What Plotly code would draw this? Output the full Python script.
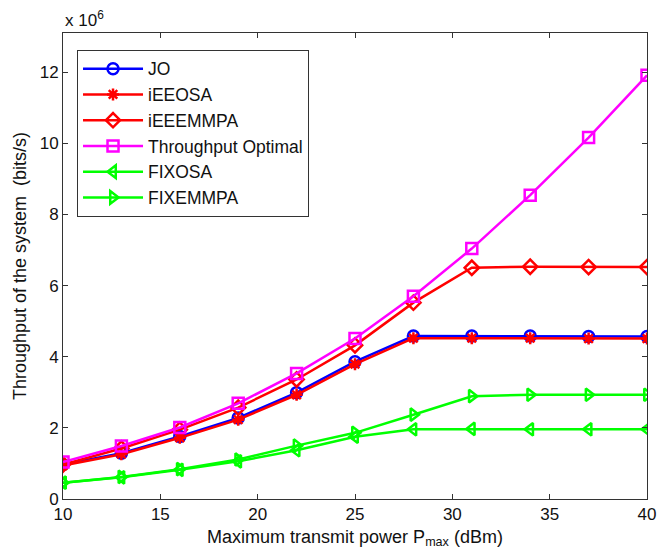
import plotly.graph_objects as go

x_power = [10, 13, 16, 19, 22, 25, 28, 31, 34, 37, 40]

jo = [0.97, 1.29, 1.76, 2.28, 2.99, 3.86, 4.58, 4.58, 4.58, 4.57, 4.57]
ieeosa = [0.94, 1.26, 1.72, 2.23, 2.93, 3.79, 4.52, 4.52, 4.52, 4.51, 4.51]
ieeemmpa = [0.97, 1.42, 1.95, 2.57, 3.36, 4.32, 5.52, 6.50, 6.53, 6.52, 6.52]
thr_opt = [1.04, 1.49, 2.01, 2.69, 3.53, 4.51, 5.70, 7.04, 8.54, 10.16, 11.91]
fixosa = [0.46, 0.61, 0.82, 1.06, 1.37, 1.75, 1.96, 1.97, 1.96, 1.96, 1.96]
fixemmpa = [0.46, 0.62, 0.84, 1.11, 1.50, 1.86, 2.37, 2.89, 2.93, 2.93, 2.93]

series = [
    ("JO", jo, "#0000ff", "circle-open"),
    ("iEEOSA", ieeosa, "#ff0000", "asterisk-open"),
    ("iEEEMMPA", ieeemmpa, "#ff0000", "diamond-open"),
    ("Throughput Optimal", thr_opt, "#ff00ff", "square-open"),
    ("FIXOSA", fixosa, "#00ff00", "triangle-left-open"),
    ("FIXEMMPA", fixemmpa, "#00ff00", "triangle-right-open"),
]

fig = go.Figure()
for name, ys, col, sym in series:
    fig.add_trace(go.Scatter(
        x=x_power, y=ys, name=name, mode="lines+markers",
        line=dict(color=col, width=2.5),
        marker=dict(symbol=sym, size=11 if sym != "asterisk-open" else 10,
                    color=col, line=dict(color=col, width=2.5)),
    ))

font_family = "Liberation Sans, Arial, sans-serif"
axis_common = dict(
    showline=True, linecolor="#333333", linewidth=1, mirror="ticks",
    ticks="inside", ticklen=5, tickcolor="#333333", showgrid=False,
    zeroline=False, tickfont=dict(size=17, color="#111111", family=font_family),
)

fig.update_layout(
    width=668, height=557,
    margin=dict(l=63, r=14, t=33, b=58),
    paper_bgcolor="white", plot_bgcolor="white",
    font=dict(family=font_family, size=17, color="#111111"),
    showlegend=True,
    legend=dict(
        x=0.024, y=0.964, xanchor="left", yanchor="top",
        bordercolor="#333333", borderwidth=1, bgcolor="white",
        font=dict(size=17.5, family=font_family), tracegroupgap=0,
        itemwidth=60,
    ),
    xaxis=dict(range=[10, 40], tickvals=[10, 15, 20, 25, 30, 35, 40],
               title=dict(text="Maximum transmit power P<sub>max</sub> (dBm)",
                          font=dict(size=18), standoff=6),
               **axis_common),
    yaxis=dict(range=[0, 13.1], tickvals=[0, 2, 4, 6, 8, 10, 12],
               title=dict(text="Throughput of the system  (bits/s)",
                          font=dict(size=18), standoff=8),
               **axis_common),
)

fig.add_annotation(
    text="x 10<sup>6</sup>", xref="paper", yref="paper",
    x=0.0, y=1.0, xanchor="left", yanchor="bottom", yshift=1,
    showarrow=False, font=dict(size=17, family=font_family, color="#111111"),
)

fig.write_html(
    "out.html",
    config={"displayModeBar": False},
    post_script="document.body.style.margin='0';document.body.style.padding='0';",
)
